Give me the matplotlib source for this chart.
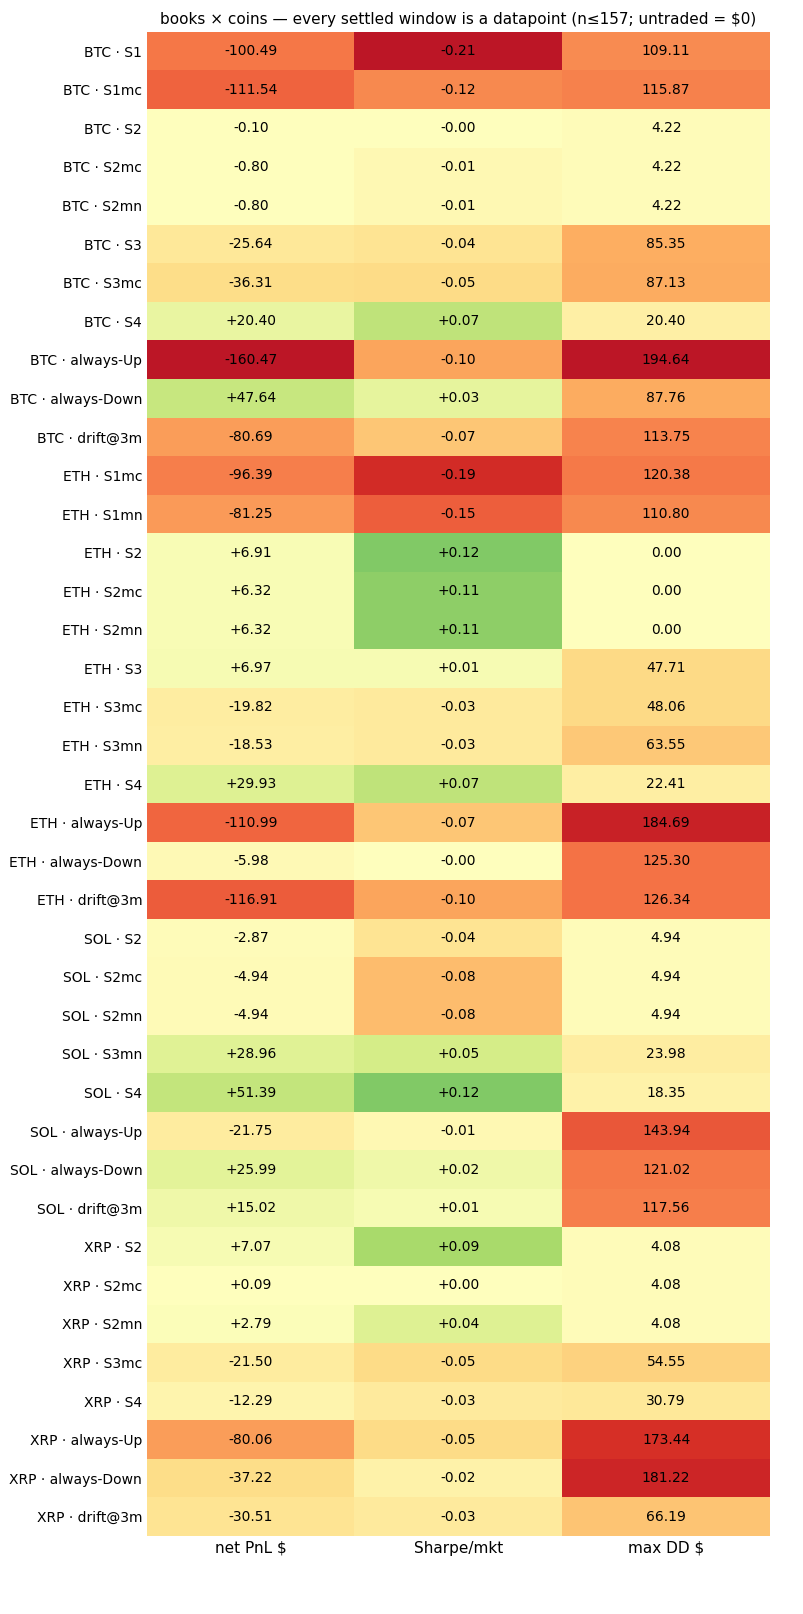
import numpy as np
import matplotlib
matplotlib.use("Agg")
import matplotlib.pyplot as plt

rows = [
    "BTC · S1", "BTC · S1mc", "BTC · S2", "BTC · S2mc", "BTC · S2mn", "BTC · S3",
    "BTC · S3mc", "BTC · S4", "BTC · always-Up", "BTC · always-Down", "BTC · drift@3m",
    "ETH · S1mc", "ETH · S1mn", "ETH · S2", "ETH · S2mc", "ETH · S2mn", "ETH · S3",
    "ETH · S3mc", "ETH · S3mn", "ETH · S4", "ETH · always-Up", "ETH · always-Down",
    "ETH · drift@3m", "SOL · S2", "SOL · S2mc", "SOL · S2mn", "SOL · S3mn", "SOL · S4",
    "SOL · always-Up", "SOL · always-Down", "SOL · drift@3m", "XRP · S2", "XRP · S2mc",
    "XRP · S2mn", "XRP · S3mc", "XRP · S4", "XRP · always-Up", "XRP · always-Down",
    "XRP · drift@3m",
]
columns = ["net PnL $", "Sharpe/mkt", "max DD $"]

net_pnl = [-100.49, -111.54, -0.10, -0.80, -0.80, -25.64, -36.31, 20.40, -160.47, 47.64,
           -80.69, -96.39, -81.25, 6.91, 6.32, 6.32, 6.97, -19.82, -18.53, 29.93,
           -110.99, -5.98, -116.91, -2.87, -4.94, -4.94, 28.96, 51.39, -21.75, 25.99,
           15.02, 7.07, 0.09, 2.79, -21.50, -12.29, -80.06, -37.22, -30.51]
sharpe = [-0.21, -0.12, -0.0, -0.01, -0.01, -0.04, -0.05, 0.07, -0.10, 0.03,
          -0.07, -0.19, -0.15, 0.12, 0.11, 0.11, 0.01, -0.03, -0.03, 0.07,
          -0.07, -0.0, -0.10, -0.04, -0.08, -0.08, 0.05, 0.12, -0.01, 0.02,
          0.01, 0.09, 0.0, 0.04, -0.05, -0.03, -0.05, -0.02, -0.03]
max_dd = [109.11, 115.87, 4.22, 4.22, 4.22, 85.35, 87.13, 20.40, 194.64, 87.76,
          113.75, 120.38, 110.80, 0.00, 0.00, 0.00, 47.71, 48.06, 63.55, 22.41,
          184.69, 125.30, 126.34, 4.94, 4.94, 4.94, 23.98, 18.35, 143.94, 121.02,
          117.56, 4.08, 4.08, 4.08, 54.55, 30.79, 173.44, 181.22, 66.19]

# colour each column on its own symmetric scale; drawdown is "bad" so flip it
cols = [np.array(net_pnl), np.array(sharpe), -np.array(max_dd)]
norm = np.column_stack([0.5 + 0.45 * c / np.abs(c).max() for c in cols])

fig = plt.figure(figsize=(8.04, 16.14), dpi=100)
ax = fig.add_axes([147 / 804, 1 - 1536 / 1614, 623 / 804, 1504 / 1614])
ax.imshow(norm, cmap="RdYlGn", vmin=0, vmax=1, aspect="auto", interpolation="nearest")

for i in range(len(rows)):
    ax.text(0, i, f"{net_pnl[i]:+.2f}", ha="center", va="center", fontsize=10)
    ax.text(1, i, f"{sharpe[i]:+.2f}", ha="center", va="center", fontsize=10)
    ax.text(2, i, f"{max_dd[i]:.2f}", ha="center", va="center", fontsize=10)

ax.set_xticks(range(len(columns)))
ax.set_xticklabels(columns, fontsize=11)
ax.set_yticks(range(len(rows)))
ax.set_yticklabels(rows, fontsize=10)
ax.tick_params(length=0)
for s in ax.spines.values():
    s.set_visible(False)
ax.set_title("books × coins — every settled window is a datapoint (n≤157; untraded = $0)",
             fontsize=11)

fig.savefig("out.png", dpi=100)
